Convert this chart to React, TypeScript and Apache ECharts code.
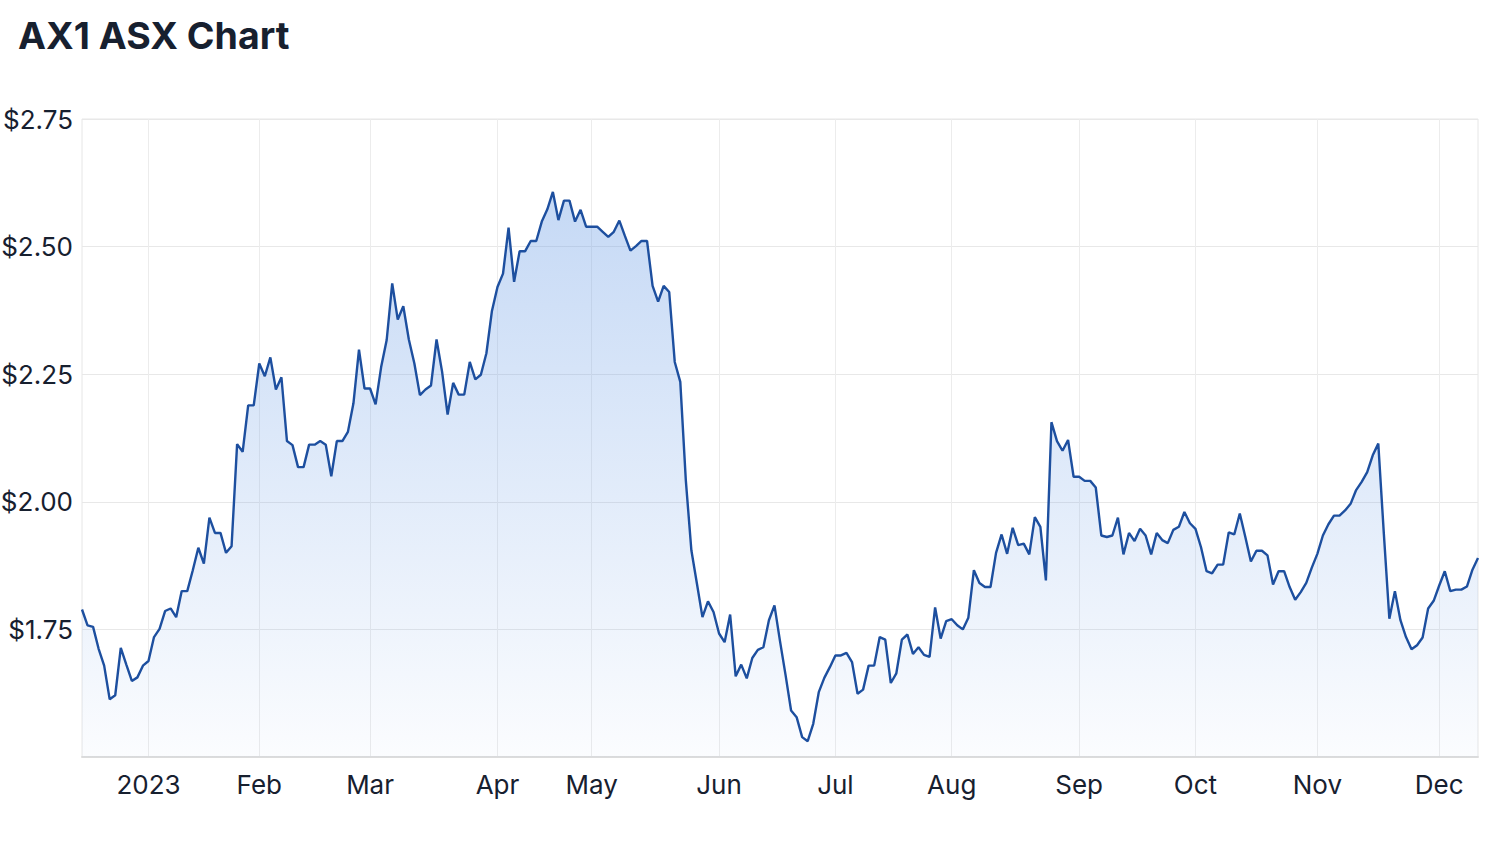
import React, { useEffect, useRef } from "react";
import * as echarts from "echarts";

const TITLE = "AX1 ASX Chart";
const START_DATE = "2022-12-13";
const END_DATE = "2023-12-12";
const HOLIDAYS = [
  "2022-12-26", "2022-12-27", "2023-01-02", "2023-01-26",
  "2023-04-07", "2023-04-10", "2023-04-25", "2023-06-12",
];
const MONTH_LABELS = ["2023", "Feb", "Mar", "Apr", "May", "Jun", "Jul", "Aug", "Sep", "Oct", "Nov", "Dec"];

const PRICES = [
  1.789, 1.758, 1.755, 1.712, 1.679, 1.613, 1.621, 1.714, 1.681, 1.649,
  1.656, 1.679, 1.688, 1.735, 1.751, 1.786, 1.791, 1.774, 1.825, 1.825,
  1.866, 1.910, 1.879, 1.969, 1.939, 1.939, 1.900, 1.913, 2.113, 2.098,
  2.189, 2.189, 2.271, 2.246, 2.283, 2.220, 2.244, 2.119, 2.111, 2.068,
  2.068, 2.112, 2.112, 2.119, 2.112, 2.050, 2.119, 2.119, 2.137, 2.193,
  2.298, 2.222, 2.222, 2.191, 2.264, 2.317, 2.428, 2.357, 2.383, 2.318,
  2.271, 2.209, 2.220, 2.228, 2.318, 2.255, 2.171, 2.233, 2.210, 2.210,
  2.274, 2.240, 2.249, 2.291, 2.374, 2.421, 2.447, 2.537, 2.431, 2.491,
  2.491, 2.511, 2.511, 2.549, 2.573, 2.607, 2.552, 2.590, 2.590, 2.549,
  2.572, 2.539, 2.539, 2.539, 2.529, 2.519, 2.529, 2.551, 2.521, 2.492,
  2.501, 2.511, 2.511, 2.423, 2.392, 2.423, 2.411, 2.274, 2.235, 2.042,
  1.905, 1.840, 1.774, 1.805, 1.784, 1.742, 1.725, 1.779, 1.658, 1.681,
  1.654, 1.694, 1.710, 1.715, 1.768, 1.797, 1.727, 1.661, 1.591, 1.578,
  1.539, 1.531, 1.565, 1.627, 1.655, 1.676, 1.699, 1.699, 1.704, 1.686,
  1.624, 1.632, 1.679, 1.679, 1.735, 1.730, 1.645, 1.664, 1.730, 1.740,
  1.702, 1.715, 1.700, 1.696, 1.793, 1.732, 1.766, 1.770, 1.758, 1.750,
  1.773, 1.866, 1.841, 1.833, 1.833, 1.900, 1.936, 1.898, 1.949, 1.915,
  1.918, 1.897, 1.970, 1.951, 1.846, 2.156, 2.119, 2.100, 2.121, 2.049,
  2.049, 2.041, 2.041, 2.028, 1.934, 1.931, 1.934, 1.969, 1.897, 1.939,
  1.923, 1.947, 1.934, 1.897, 1.939, 1.925, 1.919, 1.945, 1.951, 1.980,
  1.958, 1.947, 1.911, 1.864, 1.860, 1.877, 1.877, 1.940, 1.936, 1.977,
  1.931, 1.883, 1.904, 1.904, 1.895, 1.838, 1.864, 1.864, 1.833, 1.808,
  1.823, 1.841, 1.871, 1.898, 1.934, 1.956, 1.973, 1.973, 1.983, 1.996,
  2.023, 2.039, 2.058, 2.091, 2.114, 1.938, 1.771, 1.825, 1.768, 1.735,
  1.711, 1.719, 1.734, 1.791, 1.806, 1.836, 1.864, 1.825, 1.828, 1.828,
  1.834, 1.867, 1.890,
];

function tradingDays(): string[] {
  const out: string[] = [];
  const hol = new Set(HOLIDAYS);
  const d = new Date(START_DATE + "T00:00:00Z");
  const end = new Date(END_DATE + "T00:00:00Z");
  while (d <= end) {
    const wd = d.getUTCDay();
    const s = d.toISOString().slice(0, 10);
    if (wd !== 0 && wd !== 6 && !hol.has(s)) out.push(s);
    d.setUTCDate(d.getUTCDate() + 1);
  }
  return out;
}

export default function App() {
  const ref = useRef<HTMLDivElement>(null);
  useEffect(() => {
    document.body.style.margin = "0";
    const chart = echarts.init(ref.current!, undefined, { renderer: "svg" });
    const dates = tradingDays();
    const monthStart = new Set<number>();
    dates.forEach((s, i) => {
      if (s >= "2023-01-01" && (i === 0 || s.slice(0, 7) !== dates[i - 1].slice(0, 7))) monthStart.add(i);
    });
    const isStart = (i: number) => monthStart.has(i);
    const font = "Inter, 'Noto Sans', sans-serif";
    chart.setOption({
      animation: false,
      backgroundColor: "#ffffff",
      title: {
        text: TITLE,
        left: 18,
        top: 16,
        padding: 0,
        textStyle: { fontSize: 37.5, fontWeight: 700, color: "#17202f", fontFamily: font },
      },
      grid: {
        left: 82, right: 18, top: 119, bottom: 89,
        outerBoundsMode: "none",
        containLabel: false,
        show: true, borderColor: "#e6e6e6", borderWidth: 1,
      },
      xAxis: {
        type: "category",
        data: dates,
        boundaryGap: false,
        axisTick: { show: false },
        axisLine: { lineStyle: { color: "#dcdcdc", width: 2 } },
        axisLabel: {
          interval: (i: number) => isStart(i),
          formatter: (v: string) => MONTH_LABELS[parseInt(v.slice(5, 7), 10) - 1],
          color: "#17202f",
          fontSize: 26,
          fontFamily: font,
          margin: 14,
        },
        splitLine: {
          show: true,
          interval: (i: number) => isStart(i),
          lineStyle: { color: "#ececec", width: 1 },
        },
      },
      yAxis: {
        type: "value",
        min: 1.5,
        max: 2.75,
        interval: 0.25,
        axisLine: { show: false },
        axisTick: { show: false },
        axisLabel: {
          showMinLabel: false,
          formatter: (v: number) => "$" + v.toFixed(2),
          color: "#17202f",
          fontSize: 26,
          fontFamily: font,
          margin: 9,
        },
        splitLine: { lineStyle: { color: "#e8e8e8", width: 1 } },
      },
      series: [
        {
          type: "line",
          data: PRICES,
          symbol: "none",
          lineStyle: { color: "#1d4f9f", width: 2.4 },
          areaStyle: {
            color: new echarts.graphic.LinearGradient(0, 0, 0, 1, [
              { offset: 0, color: "rgba(108,158,230,0.56)" },
              { offset: 1, color: "rgba(108,158,230,0.04)" },
            ]),
          },
        },
      ],
    });
    return () => chart.dispose();
  }, []);
  return <div ref={ref} style={{ width: 1496, height: 846 }} />;
}
